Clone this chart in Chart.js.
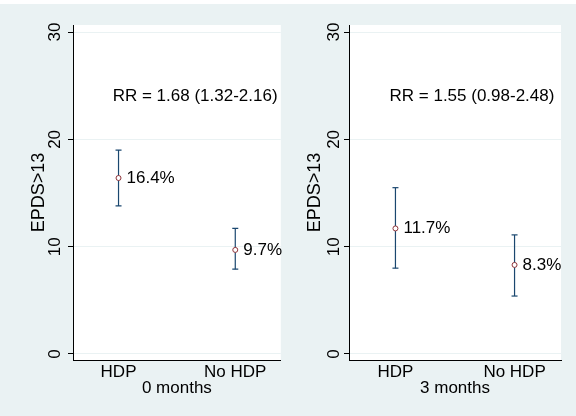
<!DOCTYPE html>
<html>
<head>
<meta charset="utf-8">
<script src="https://cdn.jsdelivr.net/npm/chart.js@4.4.1/dist/chart.umd.min.js"></script>
<style>
  html, body { margin: 0; padding: 0; background: #fff; }
  body { width: 576px; height: 416px; position: relative; overflow: hidden; }
  canvas { position: absolute; top: 4px; }
  #left { left: 0; }
  #right { left: 286px; }
</style>
</head>
<body>
<canvas id="left" width="286" height="412"></canvas>
<canvas id="right" width="290" height="412"></canvas>
<script>
// data
const categories = ["HDP", "No HDP"]
const yTicks = [0, 10, 20, 30]

const est0 = [16.4, 9.7]
const lo0 = [13.8, 7.9]
const hi0 = [19.0, 11.7]
const rr0 = "RR = 1.68 (1.32-2.16)"

const est3 = [11.7, 8.3]
const lo3 = [8.0, 5.4]
const hi3 = [15.5, 11.1]
const rr3 = "RR = 1.55 (0.98-2.48)"

// where the RR text sits, in data units
const rrX = 0.95
const rrY = 24

const BG = "#eaf2f3"
const NAVY = "#1a476f"
const MAROON = "#90353b"
const FONT = "'Liberation Sans', Arial, sans-serif"

// paint the graph region and the white plot region
const bgPlugin = {
  id: "bg",
  beforeDraw(chart) {
    const { ctx, chartArea: a } = chart
    ctx.save()
    ctx.fillStyle = BG
    ctx.fillRect(0, 0, chart.width, chart.height)
    ctx.fillStyle = "#fff"
    ctx.fillRect(a.left, a.top, a.right - a.left, a.bottom - a.top)
    ctx.restore()
  },
}

// percent labels next to the markers, and the RR text
const textPlugin = {
  id: "texts",
  afterDatasetsDraw(chart, args, opts) {
    const { ctx, scales } = chart
    const meta = chart.getDatasetMeta(0)
    ctx.save()
    ctx.font = "17px " + FONT
    ctx.fillStyle = "#000"
    ctx.textAlign = "left"
    ctx.textBaseline = "middle"
    meta.data.forEach((pt, i) => {
      const v = chart.data.datasets[0].data[i].y
      ctx.fillText(v.toFixed(1) + "%", pt.x + 8, pt.y)
    })
    ctx.fillText(opts.rr, scales.x.getPixelForValue(rrX), scales.y.getPixelForValue(rrY))
    ctx.restore()
  },
}

function makePanel(id, est, lo, hi, title, rr, padLeft, padRight, tickPad) {
  const points = est.map((v, i) => ({ x: i + 1, y: v }))
  const spines = []
  lo.forEach((v, i) => {
    spines.push({ x: i + 1, y: v }, { x: i + 1, y: hi[i] }, { x: i + 1, y: null })
  })
  const caps = lo.map((v, i) => ({ x: i + 1, y: v })).concat(hi.map((v, i) => ({ x: i + 1, y: v })))

  new Chart(document.getElementById(id), {
    type: "scatter",
    data: {
      datasets: [
        {
          data: points,
          pointStyle: "circle",
          pointRadius: 2.5,
          pointBorderWidth: 1,
          pointBorderColor: MAROON,
          pointBackgroundColor: "#fff",
        },
        {
          data: caps,
          pointStyle: "line",
          pointRadius: 3,
          pointBorderWidth: 1.2,
          pointBorderColor: NAVY,
        },
        {
          data: spines,
          showLine: true,
          spanGaps: false,
          borderColor: NAVY,
          borderWidth: 1.2,
          pointRadius: 0,
        },
      ],
    },
    options: {
      responsive: false,
      animation: false,
      events: [],
      layout: { padding: { left: padLeft, right: padRight, top: 21, bottom: 10 } },
      plugins: {
        legend: { display: false },
        tooltip: { enabled: false },
        texts: { rr: rr },
      },
      scales: {
        x: {
          type: "linear",
          min: 0.61,
          max: 2.39,
          afterBuildTicks: (s) => { s.ticks = categories.map((c, i) => ({ value: i + 1 })) },
          afterFit: (s) => { s.height = 46 },
          ticks: {
            callback: (v) => categories[v - 1],
            color: "#000",
            font: { family: FONT, size: 17 },
            padding: 2,
            maxRotation: 0,
          },
          grid: { display: false, drawTicks: false },
          border: { display: true, color: "#000", width: 1 },
          title: {
            display: true,
            text: title,
            color: "#000",
            font: { family: FONT, size: 17 },
            padding: { top: 0, bottom: 7 },
          },
        },
        y: {
          type: "linear",
          min: -0.56,
          max: 30.66,
          afterBuildTicks: (s) => { s.ticks = yTicks.map((v) => ({ value: v })) },
          afterFit: (s) => { s.width = 53 },
          ticks: {
            color: "#000",
            font: { family: FONT, size: 17 },
            padding: tickPad,
            minRotation: 90,
            maxRotation: 90,
            crossAlign: "center",
          },
          grid: { color: BG, lineWidth: 1, tickLength: 5, tickColor: "#000", tickWidth: 1 },
          border: { display: true, color: "#000", width: 1 },
          title: {
            display: true,
            text: "EPDS>13",
            color: "#000",
            font: { family: FONT, size: 18 },
            padding: { top: 8, bottom: 0 },
          },
        },
      },
    },
    plugins: [bgPlugin, textPlugin],
  })
}

makePanel("left", est0, lo0, hi0, "0 months", rr0, 20, 3, 3)
makePanel("right", est3, lo3, hi3, "3 months", rr3, 10, 15, 0)
</script>
</body>
</html>
